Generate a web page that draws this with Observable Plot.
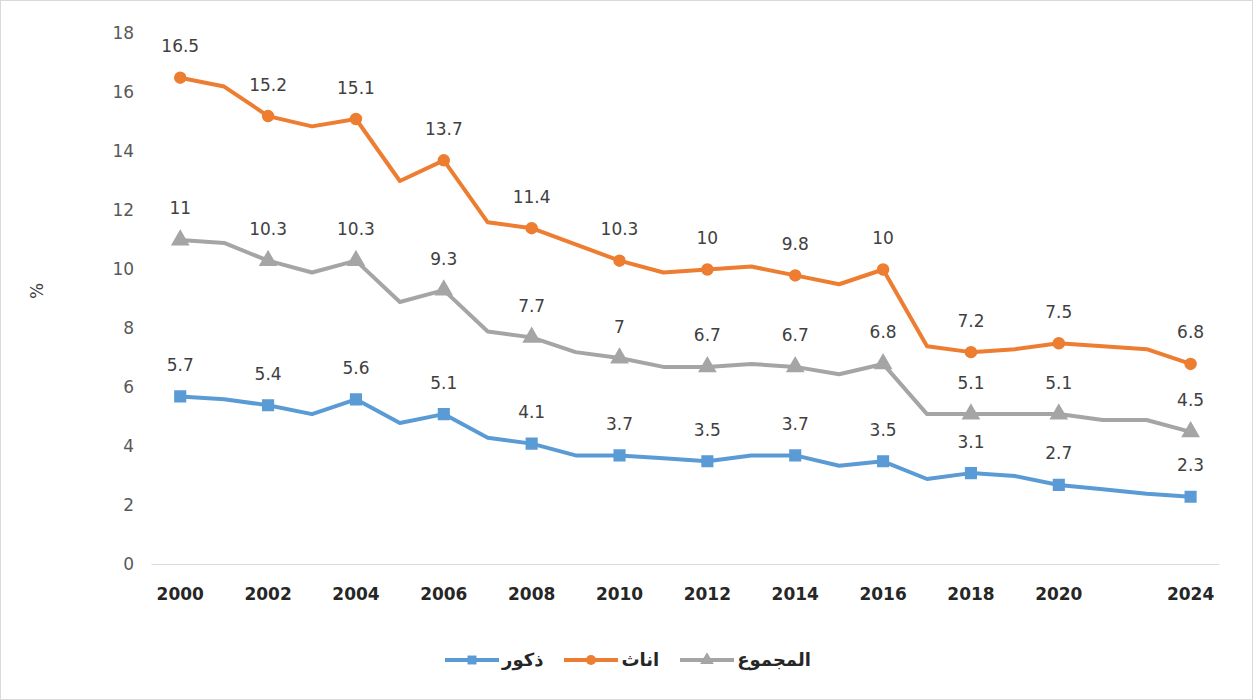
<!DOCTYPE html>
<html>
<head>
<meta charset="utf-8">
<script src="https://cdn.jsdelivr.net/npm/d3@7"></script>
<script src="https://cdn.jsdelivr.net/npm/@observablehq/plot@0.6"></script>
<style>
  html, body { margin: 0; padding: 0; background: #fff; }
  #frame { width: 1253px; height: 700px; box-sizing: border-box; border: 1px solid #d9d9d9; position: relative; overflow: hidden; }
  #legend { position: absolute; left: 0; width: 1253px; top: 648px; display: flex; justify-content: center; align-items: center; font-family: "DejaVu Sans", sans-serif; font-weight: bold; font-size: 18px; color: #262626; }
  .item { display: flex; align-items: center; margin: 0 10px; }
  .item svg { margin-right: 2px; }
</style>
</head>
<body>
<div id="frame"><div id="chart"></div><div id="legend"></div></div>
<script>
// Categories (last category is 2024)
const years = ["2000","2001","2002","2003","2004","2005","2006","2007","2008","2009","2010","2011","2012","2013","2014","2015","2016","2017","2018","2019","2020","2021","2022","2024"];
const labeledYears = ["2000","2002","2004","2006","2008","2010","2012","2014","2016","2018","2020","2024"];
const yTicks = [0,2,4,6,8,10,12,14,16,18];

// Series values
const males   = [5.7,5.6,5.4,5.1,5.6,4.8,5.1,4.3,4.1,3.7,3.7,3.6,3.5,3.7,3.7,3.35,3.5,2.9,3.1,3.0,2.7,2.55,2.4,2.3];
const females = [16.5,16.2,15.2,14.85,15.1,13.0,13.7,11.6,11.4,10.85,10.3,9.9,10,10.1,9.8,9.5,10,7.4,7.2,7.3,7.5,7.4,7.3,6.8];
const total   = [11,10.9,10.3,9.9,10.3,8.9,9.3,7.9,7.7,7.2,7,6.7,6.7,6.8,6.7,6.45,6.8,5.1,5.1,5.1,5.1,4.9,4.9,4.5];

const seriesNames = ["ذكور","اناث","المجموع"];
const seriesColors = ["#5B9BD5","#ED7D31","#A5A5A5"];
const seriesSymbols = ["square","circle","triangle"];
const seriesValues = [males, females, total];
const yLabel = "%";

const rows = [];
seriesValues.forEach((vals, s) => vals.forEach((v, i) => rows.push({year: years[i], value: v, series: seriesNames[s]})));
const labeledRows = rows.filter(d => labeledYears.includes(d.year));

const marks = [
  Plot.ruleY([0], {stroke: "#d9d9d9", strokeWidth: 1}),
  Plot.axisY({ticks: yTicks, tickSize: 0, tickPadding: 18, label: null, fontSize: 17, color: "#595959"}),
  Plot.axisX({ticks: labeledYears, tickSize: 0, tickPadding: 23, label: null, fontSize: 17, fontWeight: "bold", color: "#262626"}),
  Plot.text([yLabel], {frameAnchor: "left", dx: -115, rotate: -90, fontSize: 17, fill: "#404040"})
];
seriesNames.forEach((name, s) => {
  const data = rows.filter(d => d.series === name);
  const lab = labeledRows.filter(d => d.series === name);
  marks.push(Plot.line(data, {x: "year", y: "value", stroke: seriesColors[s], strokeWidth: 4, strokeLinejoin: "round", strokeLinecap: "round"}));
  marks.push(Plot.dot(lab, {x: "year", y: "value", fill: seriesColors[s], stroke: seriesColors[s], symbol: seriesSymbols[s], r: s === 1 ? 5.5 : 6}));
  marks.push(Plot.text(lab, {x: "year", y: "value", text: d => String(d.value), dy: -31, fill: "#404040", fontSize: 17}));
});

const chart = Plot.plot({
  width: 1253,
  height: 620,
  marginLeft: 150.7,
  marginRight: 32.7,
  marginTop: 32,
  marginBottom: 56,
  style: {fontFamily: "DejaVu Sans, sans-serif", background: "transparent", overflow: "visible"},
  x: {type: "point", domain: years, padding: 0.5, label: null},
  y: {domain: [0, 18], label: null},
  marks
});
document.getElementById("chart").appendChild(chart);

// Legend (left-to-right visual order: ذكور, اناث, المجموع)
const legend = document.getElementById("legend");
seriesNames.forEach((name, s) => {
  const item = document.createElement("div");
  item.className = "item";
  const sym = d3.create("svg").attr("width", 56).attr("height", 14);
  sym.append("line").attr("x1", 1).attr("x2", 55).attr("y1", 7).attr("y2", 7).attr("stroke", seriesColors[s]).attr("stroke-width", 4);
  const symType = [d3.symbolSquare, d3.symbolCircle, d3.symbolTriangle][s];
  sym.append("path").attr("d", d3.symbol(symType, 80)()).attr("transform", "translate(28,7)").attr("fill", seriesColors[s]);
  item.appendChild(sym.node());
  const t = document.createElement("span");
  t.textContent = name;
  t.dir = "rtl";
  item.appendChild(t);
  legend.appendChild(item);
});
</script>
</body>
</html>
